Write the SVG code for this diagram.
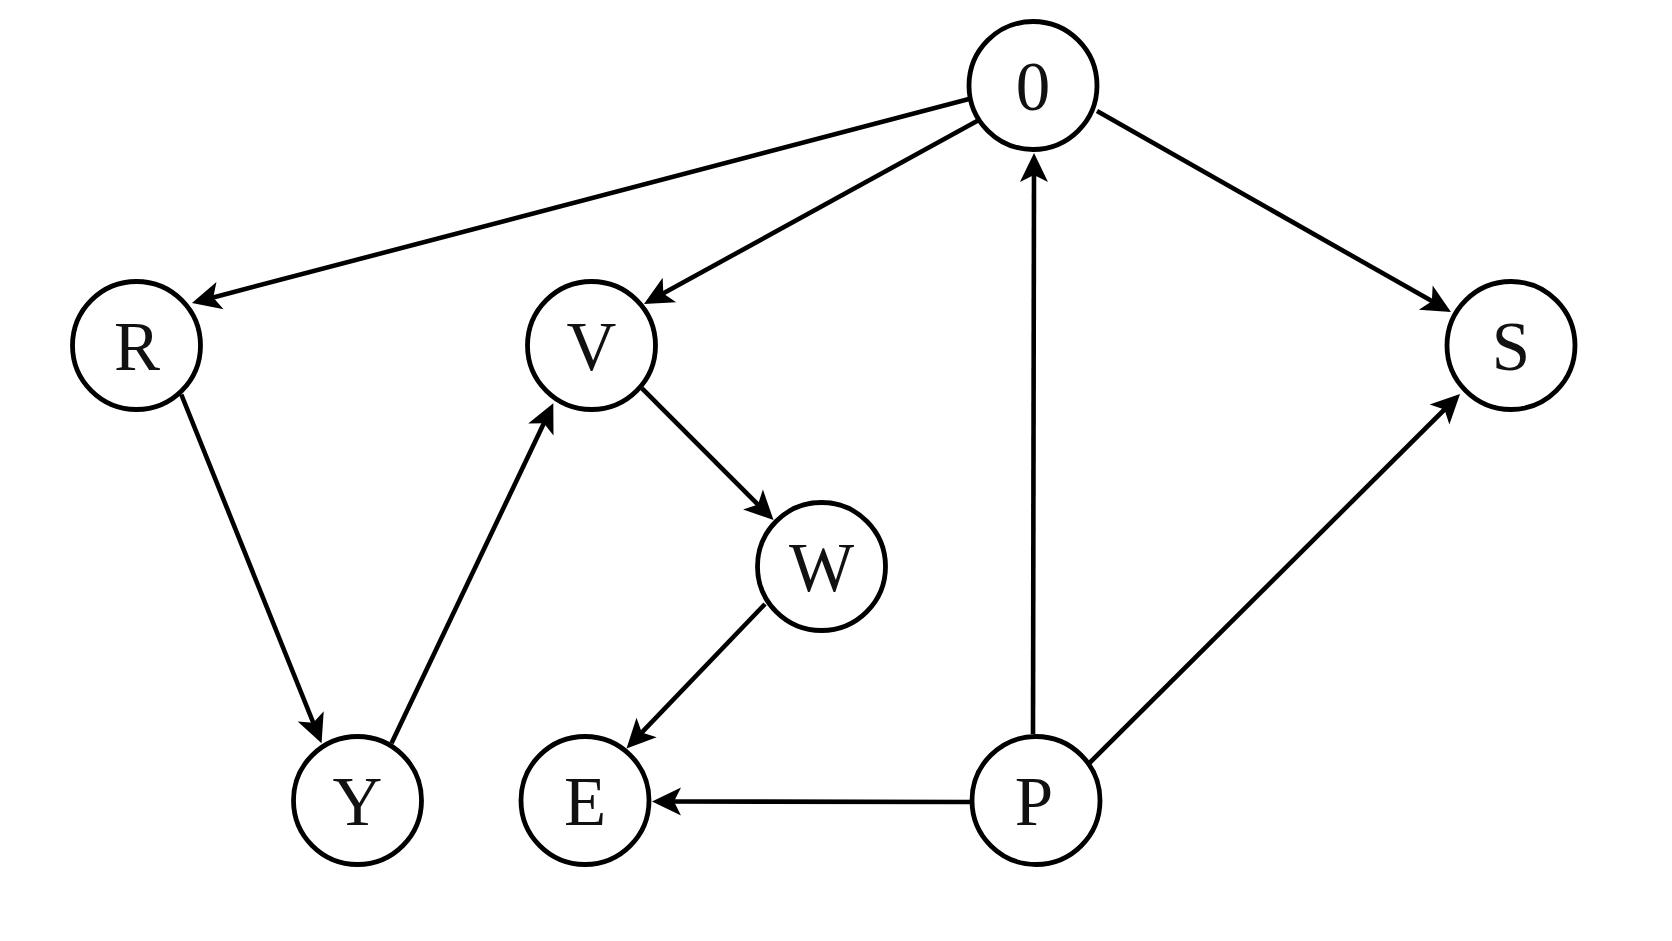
<svg xmlns="http://www.w3.org/2000/svg" width="1672" height="941" viewBox="0 0 1672 941">
<style>
.node circle { fill: #ffffff; stroke: #000000; stroke-width: 4.8; }
.node text { font-family: "Liberation Serif", "DejaVu Serif", serif; font-size: 69px; fill: #111111; text-anchor: middle; }
.edge { stroke: #000000; stroke-width: 4.6; fill: none; marker-end: url(#arrow); }
</style>
<defs>
<marker id="arrow" markerUnits="userSpaceOnUse" viewBox="-32 -16 34 32" markerWidth="34" markerHeight="32" refX="-17" refY="0" orient="auto">
<path d="M0,0 L-29,-14 L-22,0 L-29,14 Z" fill="#000000"/>
</marker>
</defs>
<rect width="1672" height="941" fill="#ffffff"/>
<g id="connectors">
<line class="edge" x1="969" y1="99" x2="208.4" y2="298.7"/>
<line class="edge" x1="978" y1="120.5" x2="658.9" y2="295.8"/>
<line class="edge" x1="1097" y1="111" x2="1436.2" y2="303.6"/>
<line class="edge" x1="1033" y1="734" x2="1034" y2="170"/>
<line class="edge" x1="1089" y1="763.5" x2="1448" y2="406"/>
<line class="edge" x1="970" y1="802" x2="669" y2="801.5"/>
<line class="edge" x1="181.3" y1="394.5" x2="315.2" y2="727.5"/>
<line class="edge" x1="391.5" y1="743.3" x2="546" y2="418.7"/>
<line class="edge" x1="642" y1="388.3" x2="761.5" y2="508"/>
<line class="edge" x1="765" y1="604" x2="638.3" y2="736.2"/>
</g>
<g id="node-0" class="node"><circle cx="1033" cy="85.5" r="64"/><text x="1033" y="109.5">0</text></g>
<g id="node-R" class="node"><circle cx="136.5" cy="345.5" r="64"/><text x="137" y="369.5">R</text></g>
<g id="node-V" class="node"><circle cx="591.5" cy="345.5" r="64"/><text x="591.5" y="369.5">V</text></g>
<g id="node-S" class="node"><circle cx="1511" cy="345.5" r="64"/><text x="1511" y="369.5">S</text></g>
<g id="node-W" class="node"><circle cx="821.5" cy="566.5" r="64"/><text x="821.5" y="590.5">W</text></g>
<g id="node-Y" class="node"><circle cx="357.5" cy="800.5" r="64"/><text x="357.5" y="824.5">Y</text></g>
<g id="node-E" class="node"><circle cx="585" cy="800.5" r="64"/><text x="585" y="824.5">E</text></g>
<g id="node-P" class="node"><circle cx="1036" cy="800.5" r="64"/><text x="1034" y="824.5">P</text></g>
</svg>
